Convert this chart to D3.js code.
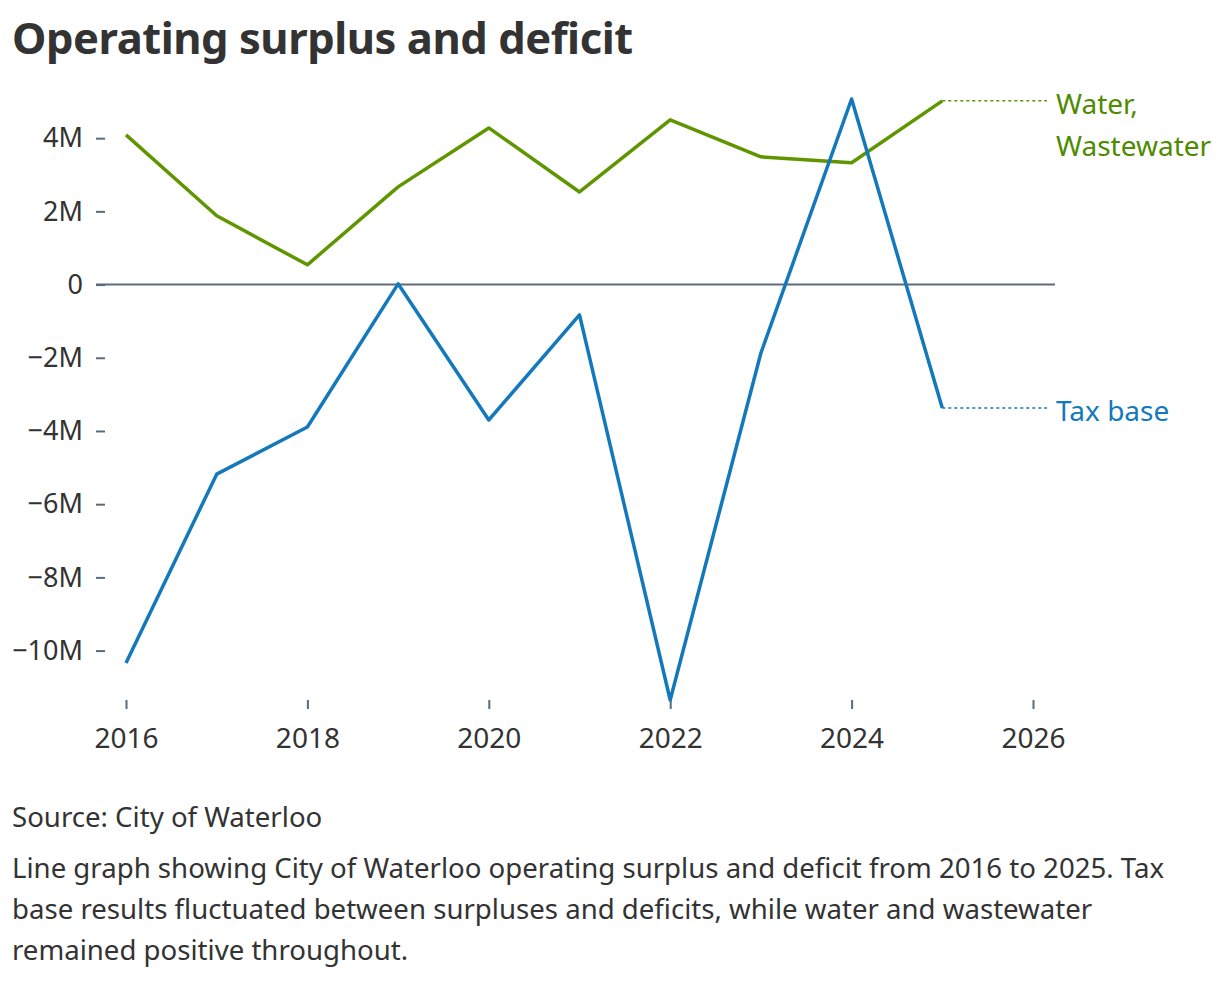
<!DOCTYPE html>
<html>
<head>
<meta charset="utf-8">
<script src="https://cdn.jsdelivr.net/npm/d3@7"></script>
<style>
  body { margin: 0; background: #fff; }
  svg text { font-family: "Noto Sans", sans-serif; fill: #333; }
</style>
</head>
<body>
<svg id="chart"></svg>
<script>
// data (values in millions)
const years = [2016, 2017, 2018, 2019, 2020, 2021, 2022, 2023, 2024, 2025];
const taxBase = [-10.34, -5.18, -3.89, 0.02, -3.70, -0.83, -11.35, -1.87, 5.07, -3.37];
const water = [4.09, 1.88, 0.54, 2.67, 4.28, 2.53, 4.50, 3.49, 3.33, 5.02];
const yTicks = [-10, -8, -6, -4, -2, 0, 2, 4];
const xTicks = [2016, 2018, 2020, 2022, 2024, 2026];
const descLines = [
  'Line graph showing City of Waterloo operating surplus and deficit from 2016 to 2025. Tax',
  'base results fluctuated between surpluses and deficits, while water and wastewater',
  'remained positive throughout.'
];

const width = 1220, height = 984;
const blue = '#1479bb', green = '#5f9600', greenText = '#4f8a00', axisCol = '#5a6b7c';
const fs = '28px';

const svg = d3.select('#chart')
  .attr('width', width)
  .attr('height', height);

// title
svg.append('text')
  .attr('x', 12)
  .attr('y', 54)
  .style('font-size', '43.5px')
  .style('font-weight', 700)
  .style('letter-spacing', '-0.45px')
  .text('Operating surplus and deficit');

const x = d3.scaleLinear().domain([2016, 2026]).range([126, 1033]);
const allVals = taxBase.concat(water);
const y = d3.scaleLinear().domain(d3.extent(allVals)).range([700, 99]);

// y axis
const yAxis = svg.append('g')
  .attr('transform', 'translate(105,0)')
  .call(d3.axisLeft(y).tickValues(yTicks).tickSize(9).tickPadding(13)
    .tickFormat(d => d === 0 ? '0' : (d < 0 ? '\u2212' + (-d) : d) + 'M'));
yAxis.select('.domain').remove();
yAxis.selectAll('line').attr('stroke', axisCol).attr('stroke-width', 2);
yAxis.selectAll('text').style('font-size', '27px').attr('fill', '#333');

// x axis
const xAxis = svg.append('g')
  .attr('transform', 'translate(0,700)')
  .call(d3.axisBottom(x).tickValues(xTicks).tickSize(9).tickPadding(19).tickFormat(d3.format('d')));
xAxis.select('.domain').remove();
xAxis.selectAll('line').attr('stroke', axisCol).attr('stroke-width', 2);
xAxis.selectAll('text').style('font-size', fs).attr('fill', '#333');

// zero line
svg.append('line')
  .attr('x1', 96).attr('x2', 1055)
  .attr('y1', y(0)).attr('y2', y(0))
  .attr('stroke', axisCol)
  .attr('stroke-width', 2);

const line = d3.line()
  .x((d, i) => x(years[i]))
  .y(d => y(d));

const series = [
  { name: ['Water,', 'Wastewater'], values: water, color: green, textColor: greenText },
  { name: ['Tax base'], values: taxBase, color: blue, textColor: blue }
];

series.forEach(s => {
  svg.append('path')
    .datum(s.values)
    .attr('fill', 'none')
    .attr('stroke', s.color)
    .attr('stroke-width', 3.5)
    .attr('stroke-linejoin', 'round')
    .attr('d', line);

  const last = s.values[s.values.length - 1];
  const lx = x(years[years.length - 1]);
  svg.append('line')
    .attr('x1', lx).attr('x2', 1047)
    .attr('y1', y(last)).attr('y2', y(last))
    .attr('stroke', s.color)
    .attr('stroke-width', 1.5)
    .attr('stroke-dasharray', '3,3');

  const label = svg.append('text')
    .attr('x', 1056)
    .attr('y', y(last) + 13)
    .style('font-size', fs)
    .style('fill', s.textColor);
  label.selectAll('tspan')
    .data(s.name)
    .enter()
    .append('tspan')
      .attr('x', 1056)
      .attr('dy', (d, i) => i === 0 ? 0 : 42)
      .text(d => d);
});

// source and description
svg.append('text')
  .attr('x', 12)
  .attr('y', 827)
  .style('font-size', '27.6px')
  .text('Source: City of Waterloo');

svg.append('text')
  .attr('x', 12)
  .attr('y', 878)
  .style('font-size', '27.6px')
  .selectAll('tspan')
  .data(descLines)
  .enter()
  .append('tspan')
    .attr('x', 12)
    .attr('dy', (d, i) => i === 0 ? 0 : 41)
    .text(d => d);
</script>
</body>
</html>
